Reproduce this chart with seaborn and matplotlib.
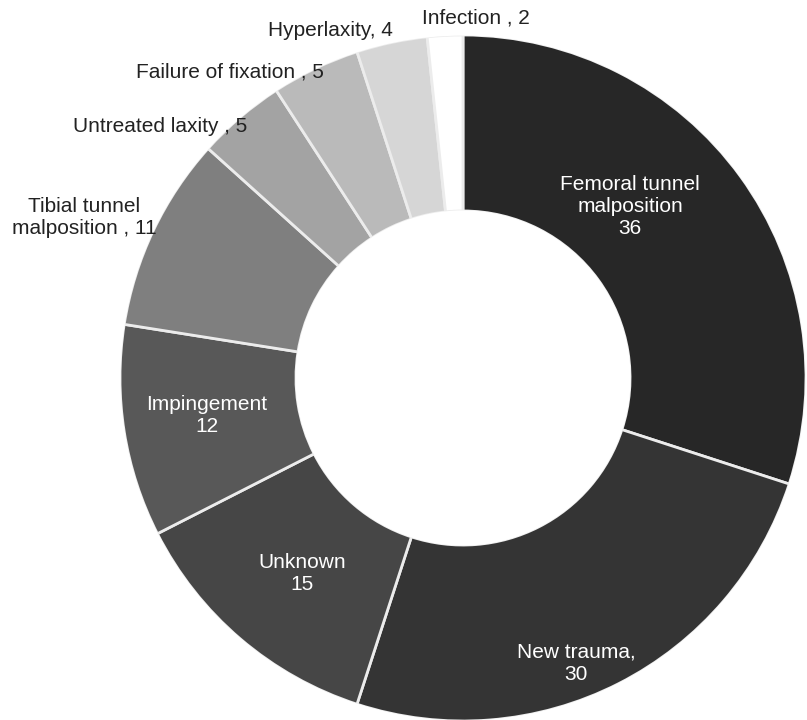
import matplotlib
matplotlib.use("Agg")
import matplotlib.pyplot as plt
import seaborn as sns

causes = ['Femoral tunnel\nmalposition\n36', 'New trauma,\n30', 'Unknown\n15', 'Impingement\n12',
          'Tibial tunnel\nmalposition , 11', 'Untreated laxity , 5', 'Failure of fixation , 5',
          'Hyperlaxity, 4', 'Infection , 2']
counts = [36, 30, 15, 12, 11, 5, 5, 4, 2]
shades = ['#272727', '#343434', '#464646', '#585858', '#7f7f7f', '#a3a3a3', '#bababa', '#d6d6d6', '#ffffff']
text_colors = ['white', 'white', 'white', 'white', '#222222', '#222222', '#222222', '#222222', '#222222']

# label spots, image pixels (x from left, y from top)
label_x = [630, 576, 302, 207, 84, 160, 230, 330, 476]
label_y = [207, 663, 573, 416, 217, 127, 72, 30, 18]

sns.set_theme(style="white")
plt.rcParams['font.family'] = ['Liberation Sans', 'DejaVu Sans']

W, H = 807, 720
fig = plt.figure(figsize=(W / 100, H / 100), dpi=100)
ax = fig.add_axes([0, 0, 1, 1])

R = 343
ax.pie(counts, colors=shades, startangle=90, counterclock=False, radius=R,
       center=(463, H - 378),
       wedgeprops=dict(width=R * 0.513, edgecolor='#ececec', linewidth=2))

# hide the light rim on the outer and inner circle
ax.add_patch(plt.Circle((463, H - 378), R + 1.5, fill=False, edgecolor='white', linewidth=3))
ax.add_patch(plt.Circle((463, H - 378), R * 0.487 - 1.5, fill=False, edgecolor='white', linewidth=3))

for lab, x, y, c in zip(causes, label_x, label_y, text_colors):
    ax.text(x, H - y, lab, ha='center', va='center', color=c, fontsize=15, linespacing=1.2)

ax.set_xlim(0, W)
ax.set_ylim(0, H)
ax.set_aspect('equal')
ax.axis('off')

plt.savefig('out.png', dpi=100, facecolor='white')
